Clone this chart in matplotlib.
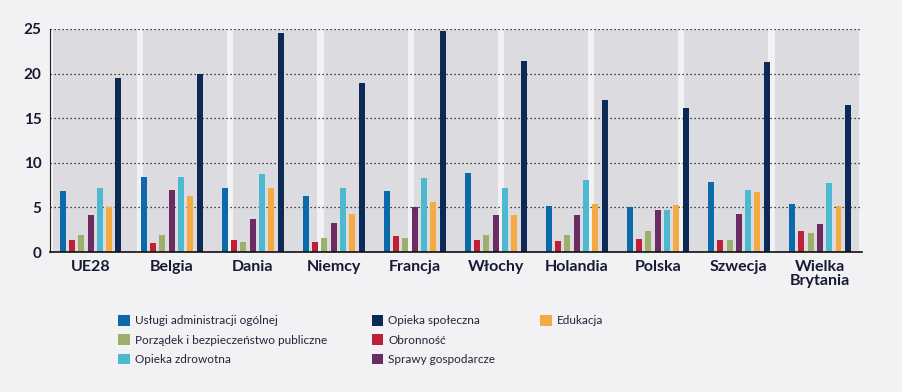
import numpy as np
import matplotlib
matplotlib.use('Agg')
from matplotlib import pyplot as plt
from matplotlib.patches import Rectangle

# wydatki sektora instytucji rzadowych wg funkcji (% PKB)
kraje = ['UE28', 'Belgia', 'Dania', 'Niemcy', 'Francja', 'Włochy',
         'Holandia', 'Polska', 'Szwecja', 'Wielka\nBrytania']

uslugi = [6.8, 8.4, 7.2, 6.3, 6.8, 8.9, 5.2, 5.1, 7.9, 5.4]
obronnosc = [1.4, 1.0, 1.3, 1.1, 1.8, 1.3, 1.2, 1.5, 1.4, 2.3]
porzadek = [1.9, 1.9, 1.1, 1.6, 1.6, 1.9, 1.9, 2.3, 1.4, 2.1]
sprawy = [4.2, 7.0, 3.7, 3.3, 5.1, 4.2, 4.2, 4.7, 4.3, 3.1]
zdrowie = [7.2, 8.4, 8.8, 7.2, 8.3, 7.2, 8.1, 4.7, 7.0, 7.7]
edukacja = [5.0, 6.3, 7.2, 4.3, 5.6, 4.2, 5.4, 5.3, 6.7, 5.2]
spoleczna = [19.5, 19.9, 24.5, 18.9, 24.8, 21.4, 17.0, 16.1, 21.3, 16.5]

serie = [
    ('Usługi administracji ogólnej', uslugi, '#0b6aa9'),
    ('Obronność', obronnosc, '#c01f3a'),
    ('Porządek i bezpieczeństwo publiczne', porzadek, '#9cb06b'),
    ('Sprawy gospodarcze', sprawy, '#6b2c64'),
    ('Opieka zdrowotna', zdrowie, '#4cb9d1'),
    ('Edukacja', edukacja, '#f6aa44'),
    ('Opieka społeczna', spoleczna, '#0c2a55'),
]

tlo = '#f2f2f4'
pasy = '#dcdbe0'
tekst = '#161a33'

plt.rcParams['font.family'] = ['Lato', 'DejaVu Sans']

fig = plt.figure(figsize=(9.02, 3.92), dpi=100, facecolor=tlo)
ax = fig.add_axes([50 / 902, 1 - 252 / 392, 812 / 902, 223 / 392])
ax.set_facecolor(tlo)

# szare pasy w tle (9 pasow niezaleznych od grup)
n_pas = 9
okres = 90.2 / 812
szer = 84 / 812
for i in range(n_pas):
    ax.add_patch(Rectangle((3 / 812 + i * okres, 0), szer, 1,
                           transform=ax.transAxes, color=pasy, zorder=0,
                           lw=0))

x = np.arange(len(kraje))
krok = 0.115
w = 0.074
handles = {}
for j, (nazwa, wart, kol) in enumerate(serie):
    b = ax.bar(x + (j - 3) * krok, wart, width=w, color=kol, zorder=3,
               label=nazwa)
    handles[nazwa] = b

ax.set_xlim(-0.5, 9.52)
ax.set_ylim(0, 25)
ax.set_yticks([0, 5, 10, 15, 20, 25])
ax.yaxis.grid(True, linestyle=(0, (1, 2.2)), color='#111111', lw=0.9,
              zorder=1)
ax.set_axisbelow(False)
for s in ['top', 'right']:
    ax.spines[s].set_visible(False)
ax.spines['left'].set_color('#222222')
ax.spines['left'].set_linewidth(0.8)
ax.spines['bottom'].set_color('#111111')
ax.spines['bottom'].set_linewidth(1.2)
ax.spines['bottom'].set_zorder(4)
ax.tick_params(length=0)
ax.set_xticks(x)
ax.set_xticklabels(kraje, fontsize=11.5, fontweight='bold', color=tekst,
                   linespacing=0.95)
for t in ax.get_yticklabels():
    t.set_fontsize(11)
    t.set_fontweight('bold')
    t.set_color(tekst)
ax.tick_params(axis='x', pad=6)
ax.tick_params(axis='y', pad=6)

# legenda: 3 kolumny (3, 3, 1)
pusty = Rectangle((0, 0), 1, 1, alpha=0)
kolejnosc = ['Usługi administracji ogólnej',
             'Porządek i bezpieczeństwo publiczne', 'Opieka zdrowotna',
             'Opieka społeczna', 'Obronność', 'Sprawy gospodarcze',
             'Edukacja']
h = [handles[k] for k in kolejnosc] + [pusty, pusty]
l = kolejnosc + ['', '']
leg = fig.legend(h, l, ncol=3, loc='upper left',
                 bbox_to_anchor=(118 / 902, 1 - 315 / 392),
                 frameon=False, fontsize=8.5,
                 handlelength=1.0, handleheight=1.0, handletextpad=0.4,
                 columnspacing=3.8, labelspacing=0.68, borderpad=0,
                 borderaxespad=0)
for t in leg.get_texts():
    t.set_color('#23233a')

fig.savefig('out.png', dpi=100, facecolor=tlo)
